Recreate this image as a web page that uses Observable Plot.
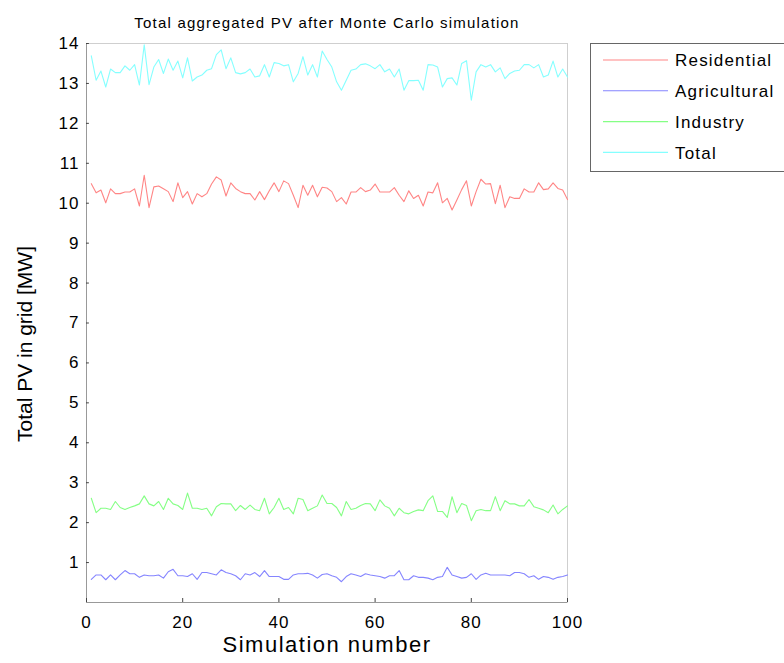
<!DOCTYPE html>
<html><head><meta charset="utf-8">
<script src="https://cdn.jsdelivr.net/npm/d3@7"></script>
<script src="https://cdn.jsdelivr.net/npm/@observablehq/plot@0.6"></script>
<style>body{margin:0;background:#fff;} #chart svg{overflow:visible}</style>
</head><body><div id="chart"></div>
<script>
const chartTitle = "Total aggregated PV after Monte Carlo simulation";
const xLabel = "Simulation number";
const yLabel = "Total PV in grid [MW]";
const seriesNames = ["Residential", "Agricultural", "Industry", "Total"];
const seriesColors = ["#ff8585", "#8585ff", "#85ff85", "#85ffff"];
const xTicks = [0, 20, 40, 60, 80, 100];
const yTicks = [1, 2, 3, 4, 5, 6, 7, 8, 9, 10, 11, 12, 13, 14];
const simulations = d3.range(1, 101);

const residential = [
 10.49,10.26,10.33,10.01,10.36,10.24,10.24,10.28,10.28,10.36,
 9.93,10.70,9.89,10.41,10.43,10.36,10.29,10.04,10.51,10.14,
 10.29,9.98,10.24,10.16,10.24,10.48,10.66,10.58,10.18,10.51,
 10.37,10.29,10.24,10.24,10.08,10.29,10.09,10.31,10.51,10.29,
 10.56,10.49,10.20,9.89,10.45,10.20,10.45,10.16,10.40,10.38,
 10.29,10.04,10.14,9.98,10.28,10.28,10.39,10.29,10.33,10.48,
 10.28,10.28,10.28,10.39,10.20,10.04,10.31,10.12,10.20,9.93,
 10.28,10.26,10.51,10.01,10.12,9.83,10.08,10.34,10.56,9.93,
 10.29,10.60,10.48,10.49,9.99,10.45,9.89,10.16,10.12,10.12,
 10.36,10.28,10.28,10.51,10.34,10.36,10.51,10.37,10.33,10.09];
const agricultural = [
 0.58,0.69,0.69,0.57,0.69,0.57,0.69,0.80,0.72,0.72,
 0.63,0.69,0.67,0.67,0.69,0.61,0.77,0.83,0.67,0.67,
 0.65,0.72,0.58,0.75,0.75,0.72,0.69,0.82,0.75,0.72,
 0.67,0.57,0.72,0.69,0.75,0.65,0.80,0.65,0.65,0.65,
 0.58,0.58,0.69,0.72,0.72,0.73,0.69,0.61,0.70,0.72,
 0.67,0.63,0.52,0.65,0.72,0.69,0.65,0.72,0.69,0.67,
 0.65,0.61,0.67,0.67,0.80,0.57,0.57,0.67,0.63,0.63,
 0.61,0.57,0.63,0.65,0.88,0.69,0.65,0.61,0.63,0.72,
 0.58,0.69,0.73,0.69,0.69,0.69,0.69,0.67,0.75,0.75,
 0.72,0.63,0.67,0.58,0.65,0.63,0.58,0.63,0.65,0.69];
const industry = [
 2.61,2.25,2.36,2.36,2.33,2.53,2.38,2.33,2.38,2.42,
 2.47,2.67,2.47,2.42,2.53,2.33,2.61,2.47,2.43,2.33,
 2.74,2.36,2.36,2.33,2.36,2.17,2.40,2.48,2.47,2.47,
 2.30,2.43,2.33,2.44,2.33,2.30,2.61,2.22,2.38,2.61,
 2.33,2.38,2.22,2.61,2.58,2.30,2.36,2.42,2.69,2.48,
 2.48,2.38,2.17,2.53,2.33,2.36,2.43,2.48,2.47,2.30,
 2.57,2.42,2.36,2.17,2.36,2.25,2.22,2.28,2.32,2.30,
 2.55,2.67,2.28,2.28,2.13,2.65,2.25,2.48,2.43,2.05,
 2.30,2.33,2.30,2.30,2.65,2.30,2.55,2.47,2.47,2.42,
 2.42,2.58,2.40,2.36,2.32,2.25,2.44,2.22,2.33,2.42];
const total = [
 13.69,13.08,13.31,12.91,13.36,13.27,13.27,13.44,13.33,13.47,
 12.96,13.97,12.97,13.41,13.60,13.25,13.61,13.33,13.56,13.14,
 13.64,13.06,13.16,13.21,13.33,13.37,13.72,13.84,13.37,13.64,
 13.27,13.24,13.27,13.36,13.16,13.19,13.47,13.16,13.52,13.50,
 13.44,13.47,13.04,13.25,13.67,13.21,13.47,13.16,13.81,13.60,
 13.41,13.04,12.83,13.08,13.33,13.36,13.47,13.49,13.44,13.37,
 13.47,13.29,13.36,13.16,13.36,12.83,13.07,13.07,13.08,12.83,
 13.47,13.46,13.41,12.91,13.12,13.14,12.96,13.50,13.57,12.58,
 13.29,13.47,13.41,13.47,13.29,13.39,13.12,13.25,13.31,13.33,
 13.47,13.47,13.39,13.47,13.16,13.21,13.56,13.16,13.36,13.16];

const seriesValues = [residential, agricultural, industry, total];
const rows = [];
seriesNames.forEach((name, i) => {
  simulations.forEach((s, j) => rows.push({sim: s, value: seriesValues[i][j], series: name}));
});

const font = "'Liberation Sans', Arial, Helvetica, sans-serif";
const chart = Plot.plot({
  width: 784, height: 663,
  marginLeft: 86, marginRight: 217, marginTop: 43, marginBottom: 61,
  x: {domain: [0, 100]},
  y: {domain: [0, 14]},
  color: {domain: seriesNames, range: seriesColors},
  style: {fontFamily: font, background: "#fff", color: "#000", overflow: "visible"},
  marks: [
    Plot.frame({stroke: "#cfcfcf"}),
    Plot.ruleX([0], {stroke: "#999"}),
    Plot.ruleY([0], {stroke: "#999"}),
    Plot.ruleY(yTicks, {x1: 0, x2: 0.6, stroke: "#444"}),
    Plot.ruleX(xTicks, {y1: 0, y2: 0.1, stroke: "#444"}),
    Plot.line(rows, {x: "sim", y: "value", z: "series", stroke: "series", strokeWidth: 1.1}),
    Plot.axisX({ticks: xTicks, tickSize: 0, tickPadding: 13, fontSize: 17, label: null, className: "xax"}),
    Plot.axisY({ticks: yTicks, tickSize: 0, tickPadding: 7, fontSize: 17, label: null, className: "yax"}),
    Plot.text([xLabel], {frameAnchor: "bottom", dy: 49, fontSize: 22, className: "xlab"}),
    Plot.text([yLabel], {frameAnchor: "left", textAnchor: "middle", dx: -61, dy: 21, rotate: -90, fontSize: 21, className: "ylab"}),
    Plot.text([chartTitle], {frameAnchor: "top", dy: -26, fontSize: 15, className: "ttl"})
  ]
});
document.getElementById("chart").appendChild(chart);

const svg = d3.select(chart);
svg.selectAll(".xax text, .yax text").style("letter-spacing", "1px");
svg.selectAll(".xlab text").style("letter-spacing", "1.5px");
svg.selectAll(".ttl text").style("letter-spacing", "1.2px");

// legend
const lg = svg.append("g").attr("font-family", font).attr("text-anchor", "start");
lg.append("rect").attr("x", 590.5).attr("y", 43.5).attr("width", 200).attr("height", 128)
  .attr("fill", "#fff").attr("stroke", "#666");
seriesNames.forEach((name, i) => {
  const yy = 60 + i * 30.8;
  lg.append("line").attr("x1", 603).attr("x2", 668).attr("y1", yy).attr("y2", yy)
    .attr("stroke", seriesColors[i]).attr("stroke-width", 1.1);
  lg.append("text").attr("x", 675).attr("y", yy).attr("dy", "0.36em")
    .attr("text-anchor", "start")
    .attr("font-size", 17).style("letter-spacing", "1.2px").text(name);
});
</script>
</body></html>
